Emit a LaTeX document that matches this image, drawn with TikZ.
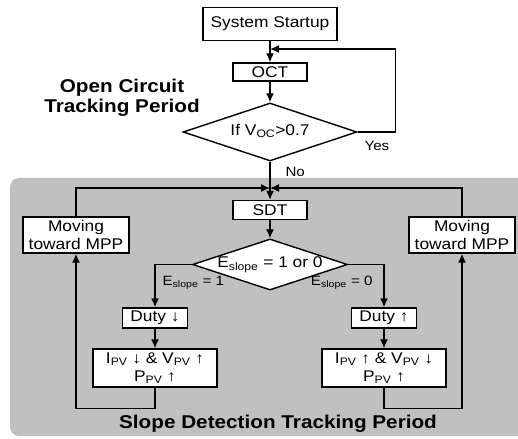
\documentclass[tikz,border=0pt]{standalone}
\usepackage{fontspec}
\setmainfont{Liberation Sans}[FakeStretch=1.12]
\usetikzlibrary{arrows.meta,shapes.geometric}
\definecolor{panelgray}{RGB}{192,192,192}
\newcommand{\lo}[1]{\textsubscript{#1}}

\begin{document}
\begin{tikzpicture}[x=1pt,y=-1pt,
  box/.style={draw, line width=1.4pt, fill=white, inner sep=0pt, align=center,
    font=\fontsize{15.5}{18}\selectfont},
  dec/.style={draw, diamond, aspect=3, line width=1.4pt, fill=white, inner sep=0pt,
    font=\fontsize{15.5}{18}\selectfont},
  flow/.style={line width=1.4pt, -{Latex[length=9pt,width=8pt]}},
  lbl/.style={font=\fontsize{13.5}{15}\selectfont},
  heading/.style={font=\bfseries\fontsize{18.5}{19.5}\selectfont, align=center}]
  \useasboundingbox (0,0) rectangle (518,438);

  % shaded panel of the slope detection period
  \fill[panelgray, rounded corners=9pt] (10,178) rectangle (540,436);

  % open circuit tracking part
  \node[box, minimum width=134, minimum height=33] (start) at (270,24) {System Startup};
  \node[box, minimum width=74, minimum height=18] (oct) at (270,72) {OCT};
  \node[dec, minimum width=174, minimum height=58] (d1) at (270,132)
    {\raisebox{5pt}{If V\lo{OC}>0.7}};
  \node[heading] (ocp) at (122,98) {Open Circuit\\Tracking Period};

  % slope detection part
  \node[box, minimum width=74, minimum height=19] (sdt) at (270,210) {SDT};
  \node[dec, minimum width=155, minimum height=44] (d2) at (270,264.5)
    {\raisebox{1pt}{E\lo{slope} = 1 or 0}};
  \node[box, minimum width=106, minimum height=36] (mvL) at (76,235) {Moving\\toward MPP};
  \node[box, minimum width=106, minimum height=36] (mvR) at (462,235) {Moving\\toward MPP};
  \node[box, minimum width=65, minimum height=20] (dutyL) at (155,318) {Duty ↓};
  \node[box, minimum width=65, minimum height=20] (dutyR) at (384,318) {Duty ↑};
  \node[box, minimum width=124, minimum height=38] (ipvL) at (155,368)
    {I\lo{PV} ↓ \& V\lo{PV} ↑\\P\lo{PV} ↑};
  \node[box, minimum width=124, minimum height=38] (ipvR) at (384,368)
    {I\lo{PV} ↑ \& V\lo{PV} ↓\\P\lo{PV} ↑};
  \node[heading] (sdp) at (278,424) {Slope Detection Tracking Period};

  % branch labels
  \node[lbl, anchor=west] (yes) at (361,146) {Yes};
  \node[lbl, anchor=west] (no) at (282,172) {No};
  \node[lbl, anchor=west] (e1) at (159,283) {E\lo{slope} = 1};
  \node[lbl, anchor=east] (e0) at (376,283) {E\lo{slope} = 0};

  % junction points
  \coordinate (jtop) at (270,49);
  \coordinate (jmid) at (270,188);

  % connectors
  \draw[flow] (start) -- (oct);
  \draw[flow] (oct) -- (d1.north);
  \draw[flow] (d1.east) -- ++(38,0) |- (jtop);
  \draw[flow] (d1.south) -- (sdt.north);
  \draw[flow] (mvL.north) |- (jmid);
  \draw[flow] (mvR.north) |- (jmid);
  \draw[flow] (sdt) -- (d2.north);
  \draw[flow] (d2.west) -| (dutyL.north);
  \draw[flow] (d2.east) -| (dutyR.north);
  \draw[flow] (dutyL) -- (ipvL);
  \draw[flow] (dutyR) -- (ipvR);
  \draw[flow] (ipvL.south) -- ++(0,21) -| (mvL.south);
  \draw[flow] (ipvR.south) -- ++(0,21) -| (mvR.south);
\end{tikzpicture}
\end{document}
